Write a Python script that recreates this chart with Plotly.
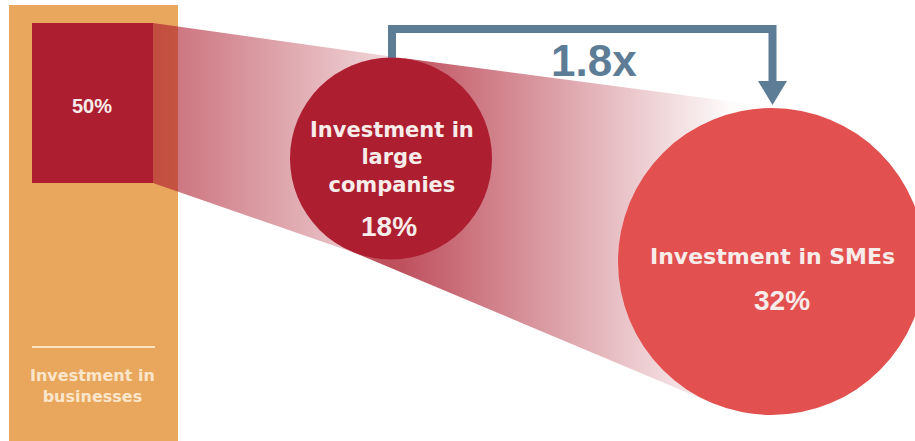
import math
import plotly.graph_objects as go

# Shares of total investment (%)
segments = ["Investment in businesses", "Investment in large companies", "Investment in SMEs"]
shares = [50, 18, 32]
label_lines = [
    ["Investment in", "businesses"],
    ["Investment in", "large", "companies"],
    ["Investment in SMEs"],
]

W, H = 915, 441

# Layout geometry (pixel space, y grows downward)
COLUMN = (9, 5, 178, 445)          # orange column x0, y0, x1, y1
BOX = (32, 23, 153, 183)           # share-of-total square
C1, R1 = (391.0, 158.5), 101.0     # large companies bubble
C2, R2 = (771.5, 261.5), 153.5     # SMEs bubble

ORANGE = "#E9A65D"
DARK_RED = "#AD1F30"
LIGHT_RED = "#E25050"
STEEL = "#5D7D97"
TEXT_LIGHT = "#F7ECEA"


def point_tangent(p, c, r, upper):
    """Tangent point on circle (c, r) seen from external point p."""
    dx, dy = c[0] - p[0], c[1] - p[1]
    d = math.hypot(dx, dy)
    base = math.atan2(dy, dx)
    off = math.asin(r / d)
    ang = base - off if upper else base + off
    L = math.sqrt(d * d - r * r)
    return (p[0] + L * math.cos(ang), p[1] + L * math.sin(ang))


def outer_tangents(c1, r1, c2, r2):
    """Tangent points of the two outer common tangents (upper, lower)."""
    dx, dy = c2[0] - c1[0], c2[1] - c1[1]
    d = math.hypot(dx, dy)
    ux, uy = dx / d, dy / d
    vx, vy = -uy, ux
    a = (r1 - r2) / d
    b = math.sqrt(1 - a * a)
    res = []
    for s in (-1, 1):
        nx, ny = a * ux + s * b * vx, a * uy + s * b * vy
        res.append(((c1[0] + r1 * nx, c1[1] + r1 * ny), (c2[0] + r2 * nx, c2[1] + r2 * ny)))
    res.sort(key=lambda t: t[0][1])
    return res


fig = go.Figure()

# Cone from the square to the first bubble
top_r = (BOX[2], BOX[1])
bot_r = (BOX[2], BOX[3])
t1 = point_tangent(top_r, C1, R1, upper=True)
b1 = point_tangent(bot_r, C1, R1, upper=False)
cone1 = [top_r, t1, C1, b1, bot_r]
fig.add_trace(go.Scatter(
    x=[p[0] for p in cone1], y=[p[1] for p in cone1],
    mode="lines", fill="toself", line=dict(width=0, color="rgba(0,0,0,0)"),
    fillgradient=dict(type="horizontal", start=BOX[2], stop=C1[0],
                      colorscale=[[0, "rgba(173,31,48,0.66)"], [1, "rgba(173,31,48,0.18)"]]),
    hoverinfo="skip", showlegend=False,
))

# Cone from the first bubble to the second
(u1, u2), (l1, l2) = outer_tangents(C1, R1, C2, R2)
cone2 = [C1, u1, u2, C2, l2, l1]
fig.add_trace(go.Scatter(
    x=[p[0] for p in cone2], y=[p[1] for p in cone2],
    mode="lines", fill="toself", line=dict(width=0, color="rgba(0,0,0,0)"),
    fillgradient=dict(type="horizontal", start=C1[0] + 10, stop=730,
                      colorscale=[[0, "rgba(173,31,48,0.78)"], [1, "rgba(173,31,48,0.02)"]]),
    hoverinfo="skip", showlegend=False,
))

shapes = []
# Orange column with divider
shapes.append(dict(type="rect", layer="below", x0=COLUMN[0], y0=COLUMN[1], x1=COLUMN[2], y1=COLUMN[3],
                   fillcolor=ORANGE, line=dict(width=0)))
shapes.append(dict(type="line", layer="above", x0=BOX[0], x1=BOX[2] + 2, y0=347, y1=347,
                   line=dict(color="#FCE4BE", width=2)))
# Square
shapes.append(dict(type="rect", layer="above", x0=BOX[0], y0=BOX[1], x1=BOX[2], y1=BOX[3],
                   fillcolor=DARK_RED, line=dict(width=0)))
# Ratio bracket between bubbles
bx0, bx1, by = C1[0] + 1, C2[0] + 1, 29
tip_y = C2[1] - R2 - 3
shapes.append(dict(type="path", layer="above",
                   path=f"M {bx0} {C1[1] - R1 + 8} L {bx0} {by} L {bx1} {by} L {bx1} {tip_y - 20}",
                   line=dict(color=STEEL, width=8)))
shapes.append(dict(type="path", layer="above",
                   path=f"M {bx1 - 14.5} {tip_y - 24} L {bx1 + 14.5} {tip_y - 24} L {bx1} {tip_y} Z",
                   fillcolor=STEEL, line=dict(width=0)))
# Bubbles
shapes.append(dict(type="circle", layer="above", x0=C1[0] - R1, x1=C1[0] + R1, y0=C1[1] - R1, y1=C1[1] + R1,
                   fillcolor=DARK_RED, line=dict(width=0)))
shapes.append(dict(type="circle", layer="above", x0=C2[0] - R2, x1=C2[0] + R2, y0=C2[1] - R2, y1=C2[1] + R2,
                   fillcolor=LIGHT_RED, line=dict(width=0)))

LABEL_FONT = "DejaVu Sans"
NUM_FONT = "Liberation Sans, Arial"

annotations = [
    # Square value
    dict(x=(BOX[0] + BOX[2]) / 2 - 1, y=106, text=f"{shares[0]}%",
         font=dict(family=NUM_FONT, size=20, color=TEXT_LIGHT, weight="bold")),
    # Column label
    dict(x=92, y=386, text="<br>".join(label_lines[0]),
         font=dict(family=LABEL_FONT, size=16, color="#FBE6CC", weight="bold")),
    # Large companies
    dict(x=C1[0] + 1, y=157, text="<br>".join(label_lines[1]),
         font=dict(family=LABEL_FONT, size=21, color=TEXT_LIGHT, weight="bold")),
    dict(x=C1[0] - 2, y=226, text=f"{shares[1]}%",
         font=dict(family=NUM_FONT, size=28, color=TEXT_LIGHT, weight="bold")),
    # SMEs
    dict(x=772, y=256, text="<br>".join(label_lines[2]),
         font=dict(family=LABEL_FONT, size=22, color=TEXT_LIGHT, weight="bold")),
    dict(x=782, y=300, text=f"{shares[2]}%",
         font=dict(family=NUM_FONT, size=28, color=TEXT_LIGHT, weight="bold")),
    # Ratio
    dict(x=594, y=60, text=f"{shares[2] / shares[1]:.1f}x",
         font=dict(family=NUM_FONT, size=44, color=STEEL, weight="bold")),
]
for a in annotations:
    a.update(xref="x", yref="y", showarrow=False, xanchor="center", yanchor="middle")

fig.update_layout(
    width=W, height=H, margin=dict(l=0, r=0, t=0, b=0),
    paper_bgcolor="white", plot_bgcolor="white",
    xaxis=dict(range=[0, W], visible=False, fixedrange=True),
    yaxis=dict(range=[H, 0], visible=False, fixedrange=True),
    shapes=shapes, annotations=annotations, showlegend=False, hovermode=False,
)

fig.write_html("out.html", config={"displayModeBar": False})
